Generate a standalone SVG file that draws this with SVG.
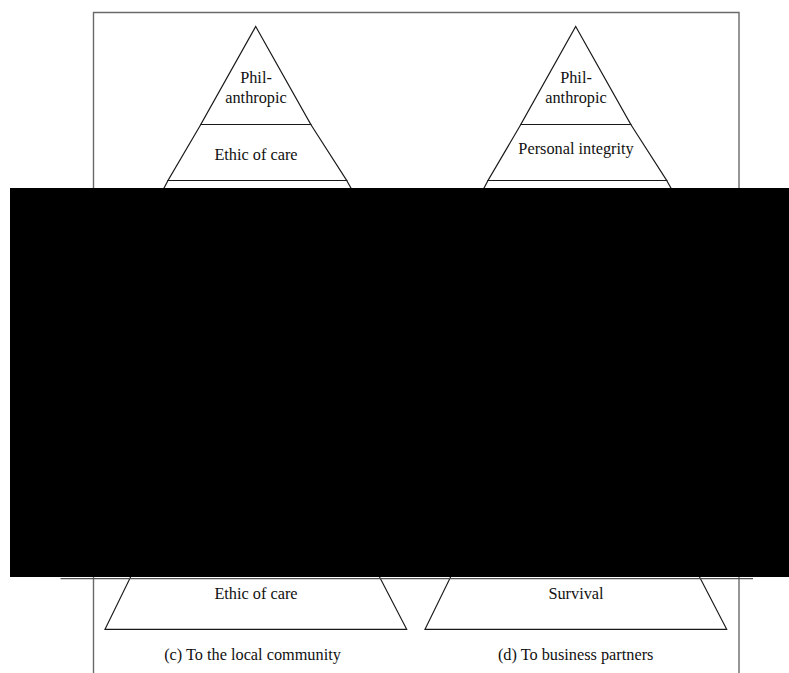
<svg xmlns="http://www.w3.org/2000/svg" width="789" height="673" viewBox="0 0 789 673">
  <style>
    .frame { fill: none; stroke: #6a6a6a; stroke-width: 1.4; }
    .tier { fill: #ffffff; stroke: #1a1a1a; stroke-width: 1.2; stroke-linejoin: miter; }
    .rule { stroke: #555555; stroke-width: 1.3; }
    .lbl { font-family: "Liberation Serif", "Times New Roman", serif; font-size: 16.3px; fill: #111111; text-anchor: middle; }
  </style>
  <rect width="789" height="673" fill="#ffffff"/>

  <!-- outer frame (open at the bottom edge) -->
  <path class="frame" d="M93.5,673 V12.5 H739 V673"/>

  <!-- left pyramid: community -->
  <g id="pyramid-c">
    <g id="c-top">
      <polygon class="tier" points="255.7,26.5 310.8,124.5 200.8,124.5"/>
      <text class="lbl" x="256" y="83">Phil-</text>
      <text class="lbl" x="256" y="103">anthropic</text>
    </g>
    <g id="c-care">
      <polygon class="tier" points="200.8,124.5 310.8,124.5 346.7,180.5 168,180.5"/>
      <text class="lbl" x="256" y="160">Ethic of care</text>
    </g>
    <g id="c-mid">
      <polygon class="tier" points="168,180.5 346.7,180.5 352,190 163,190"/>
    </g>
    <g id="c-base">
      <polygon class="tier" points="133,572 377,572 406.7,629.3 105,629.3"/>
      <text class="lbl" x="256" y="598.5">Ethic of care</text>
    </g>
    <text class="lbl" x="252.5" y="660">(c) To the local community</text>
  </g>

  <!-- right pyramid: business partners -->
  <g id="pyramid-d">
    <g id="d-top">
      <polygon class="tier" points="575.7,26.5 630.8,124.5 520.8,124.5"/>
      <text class="lbl" x="576" y="83">Phil-</text>
      <text class="lbl" x="576" y="103">anthropic</text>
    </g>
    <g id="d-integrity">
      <polygon class="tier" points="520.8,124.5 630.8,124.5 666.7,180.5 488,180.5"/>
      <text class="lbl" x="576" y="153.5">Personal integrity</text>
    </g>
    <g id="d-mid">
      <polygon class="tier" points="488,180.5 666.7,180.5 672,190 483,190"/>
    </g>
    <g id="d-base">
      <polygon class="tier" points="453,572 697,572 726.7,629.3 425,629.3"/>
      <text class="lbl" x="576" y="598.5">Survival</text>
    </g>
    <text class="lbl" x="575.7" y="660">(d) To business partners</text>
  </g>

  <g id="connectors"></g>

  <!-- rule under the blocked-out band -->
  <line class="rule" x1="60.5" y1="578.6" x2="753" y2="578.6"/>

  <!-- solid black band across the middle -->
  <rect x="10" y="188" width="779" height="389" fill="#000000"/>
</svg>
